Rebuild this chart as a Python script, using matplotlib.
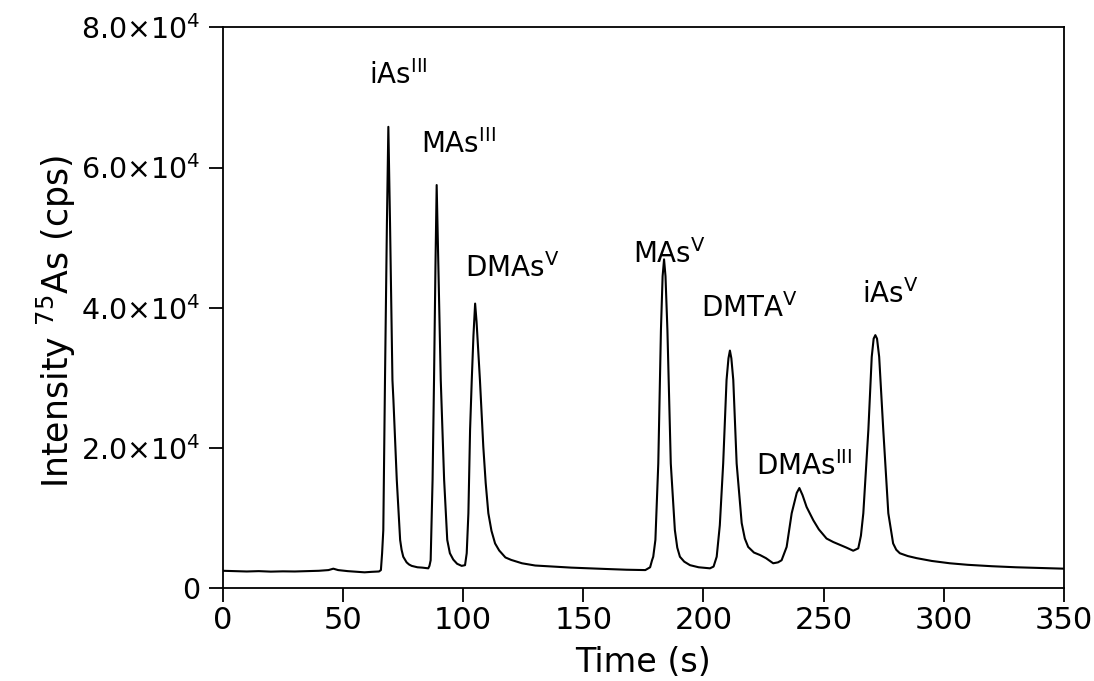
import matplotlib
matplotlib.use("Agg")
import matplotlib.pyplot as plt

plt.rcParams['font.family'] = ['DejaVu Sans']
plt.rcParams['mathtext.fontset'] = 'dejavusans'
plt.rcParams['mathtext.default'] = 'regular'

# Retention time (s) and 75As signal (cps) of the chromatogram trace
time_s = [0, 5, 10, 15, 20, 25, 30, 35, 40, 44, 46, 48, 52, 56, 59, 62, 65,
          65.8, 66.3, 66.8, 67.5, 68.3, 68.9, 69.6, 70.6, 71.0, 72.4, 73.8,
          74.4, 75.1, 76.5, 77.5, 78.6, 81, 83, 85.5,
          86.0, 86.5, 87.3, 87.9, 88.5, 89.0, 89.7, 90.7, 92.1, 93.4, 94.5,
          95.9, 97.5, 99.4, 100.8,
          101.5, 102.2, 102.9, 103.6, 104.3, 105.0, 105.6, 107.0, 108.4,
          109.4, 110.5, 111.8, 113.3, 115, 116.7, 117.6, 120, 122.3, 124.5,
          130, 138.4, 145, 152.2, 160, 168, 175.8,
          177.8, 178.6, 179.1, 180.0, 181.2, 182.3, 183.0, 183.6, 184.2,
          185.0, 186.4, 188.1, 189.1, 190.2, 192, 194.4, 198, 202.7,
          204.2, 205.5, 206.8, 208.2, 209.6, 210.4, 211.0, 211.6, 212.4,
          213.8, 215.9, 217.2, 218.6, 221, 223.5, 226, 229.0, 231, 232.5,
          234.6, 236.7, 238.8, 239.9, 241.2, 242.9, 245.7, 248, 251.2, 254,
          256.8, 259.5, 262.3, 264.4,
          265.5, 266.5, 268.6, 270.0, 270.8, 271.5, 272.2, 273.1, 274.8,
          276.9, 278.9, 280.2, 281.7, 285, 288.7, 295, 302.5, 310, 320, 330,
          340, 350]
intensity_cps = [2500, 2450, 2400, 2450, 2380, 2420, 2400, 2450, 2500, 2600,
                 2800, 2600, 2450, 2350, 2280, 2350, 2400,
                 2600, 5000, 8300, 29700, 52000, 65800, 52000, 29700, 26900,
                 15500, 6900, 5500, 4500, 3700, 3400, 3200, 3000, 2950, 2850,
                 3200, 4000, 15500, 29700, 46000, 57500, 46000, 29700, 15500,
                 6900, 5000, 4100, 3500, 3200, 3300,
                 5000, 10700, 22600, 29700, 36000, 40600, 38000, 29700, 20200,
                 15000, 10700, 8200, 6400, 5400, 4750, 4400, 4050, 3800, 3570,
                 3250, 3080, 2950, 2850, 2750, 2650, 2600,
                 3000, 4000, 4500, 6900, 17800, 36800, 44500, 46900, 44500,
                 36800, 17800, 8300, 5800, 4500, 3800, 3300, 3000, 2850,
                 3100, 4500, 9000, 17800, 29700, 32800, 33900, 32800, 29700,
                 17800, 9300, 7100, 5900, 5100, 4750, 4300, 3570, 3700, 4000,
                 5900, 10700, 13600, 14300, 13300, 11600, 9700, 8400, 7100,
                 6600, 6200, 5800, 5360, 5700,
                 7500, 10700, 22600, 33000, 35600, 36100, 35600, 33000, 22600,
                 10700, 6400, 5500, 5000, 4600, 4300, 3900, 3570, 3350, 3150,
                 3000, 2900, 2800]

# Peak labels and their placement (time, intensity)
peak_labels = ['iAs$^{III}$', 'MAs$^{III}$', 'DMAs$^{V}$', 'MAs$^{V}$',
               'DMTA$^{V}$', 'DMAs$^{III}$', 'iAs$^{V}$']
label_time = [73, 98, 120.5, 186, 219, 242, 277.8]
label_intensity = [73200, 63300, 45700, 47700, 40000, 17500, 41900]

x_ticks = [0, 50, 100, 150, 200, 250, 300, 350]
y_ticks = [0, 20000, 40000, 60000, 80000]
y_tick_labels = ['0', r'2.0$\times$10$^{4}$', r'4.0$\times$10$^{4}$',
                 r'6.0$\times$10$^{4}$', r'8.0$\times$10$^{4}$']

fig = plt.figure(figsize=(10.94, 6.81), dpi=100)
ax = fig.add_axes([0.2036, 0.1361, 0.769, 0.8239])

ax.plot(time_s, intensity_cps, color='black', lw=1.5)

for text, tx, ty in zip(peak_labels, label_time, label_intensity):
    ax.text(tx, ty, text, ha='center', va='center', fontsize=20)

ax.set_xlim(0, 350)
ax.set_ylim(0, 80000)
ax.set_xticks(x_ticks)
ax.set_xticklabels([str(v) for v in x_ticks])
ax.set_yticks(y_ticks)
ax.set_yticklabels(y_tick_labels)
ax.tick_params(direction='out', length=10, width=1.3)
ax.tick_params(axis='y', pad=6, labelsize=20.5)
ax.tick_params(axis='x', pad=3, labelsize=22)

for sp in ax.spines.values():
    sp.set_linewidth(1.3)

ax.set_xlabel('Time (s)', fontsize=24, labelpad=8)
ax.set_ylabel('Intensity $^{75}$As (cps)', fontsize=25)
ax.yaxis.set_label_coords(-0.172, 0.475)

fig.savefig('out.png', dpi=100)
